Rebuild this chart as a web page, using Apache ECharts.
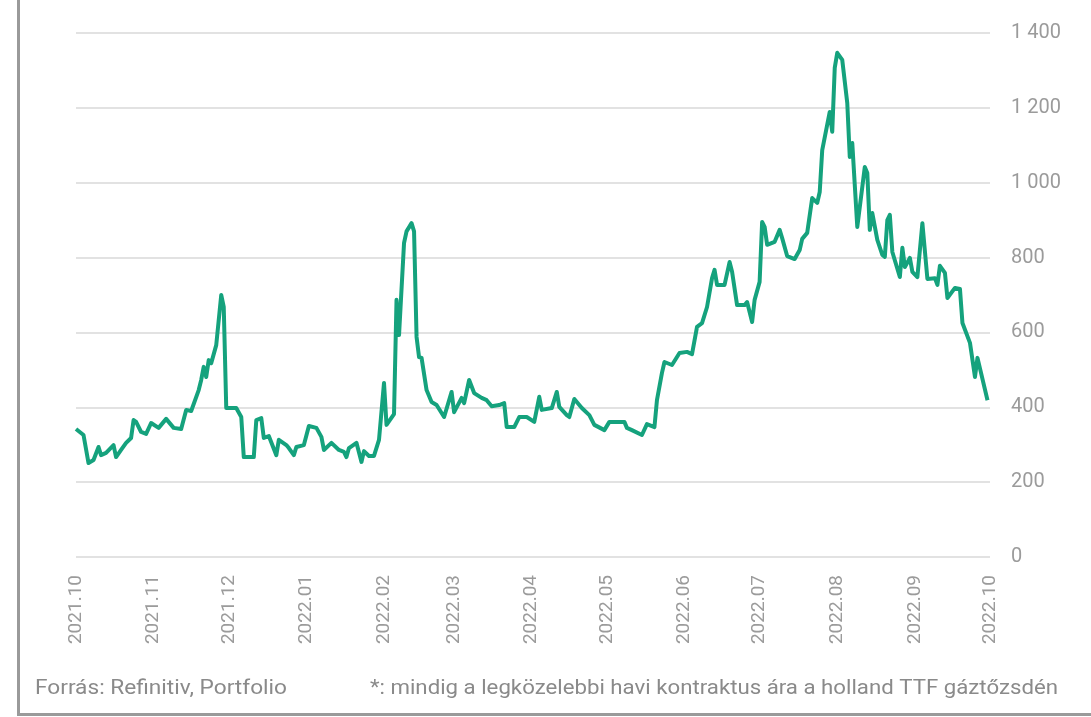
<!DOCTYPE html>
<html lang="hu">
<head>
    <meta charset="UTF-8">
    <title>TTF gázár</title>
    <script src="https://cdn.jsdelivr.net/npm/echarts@6/dist/echarts.min.js"></script>
    <style>
        html, body { margin: 0; padding: 0; background: #fff; }
        #frame {
            position: absolute; left: 17px; top: 0;
            width: 1074px; height: 713px;
            border-left: 3px solid #9a9a9a;
            border-bottom: 3px solid #9a9a9a;
        }
        #main { position: absolute; left: 0; top: 0; width: 1091px; height: 717px; }
    </style>
</head>
<body>
<div id="frame"></div>
<div id="main"></div>
<script>
    // napi adatok (leolvasva)
    var dates = [
        '2021-10-01','2021-10-04','2021-10-06','2021-10-08','2021-10-10','2021-10-11','2021-10-13','2021-10-16',
        '2021-10-17','2021-10-19','2021-10-21','2021-10-23','2021-10-24','2021-10-25','2021-10-27','2021-10-29',
        '2021-10-31','2021-11-03','2021-11-06','2021-11-09','2021-11-12','2021-11-14','2021-11-16','2021-11-19',
        '2021-11-20','2021-11-21','2021-11-22','2021-11-23','2021-11-24','2021-11-26','2021-11-28','2021-11-29',
        '2021-11-30','2021-12-04','2021-12-06','2021-12-07','2021-12-11','2021-12-12','2021-12-14','2021-12-15',
        '2021-12-17','2021-12-20','2021-12-21','2021-12-24','2021-12-25','2021-12-27','2021-12-28','2021-12-31',
        '2022-01-02','2022-01-05','2022-01-07','2022-01-08','2022-01-11','2022-01-14','2022-01-16','2022-01-17',
        '2022-01-18','2022-01-21','2022-01-23','2022-01-24','2022-01-26','2022-01-28','2022-01-30','2022-02-01',
        '2022-02-02','2022-02-05','2022-02-06','2022-02-07','2022-02-09','2022-02-10','2022-02-12','2022-02-13',
        '2022-02-14','2022-02-15','2022-02-16','2022-02-18','2022-02-20','2022-02-22','2022-02-25','2022-02-28',
        '2022-03-01','2022-03-04','2022-03-05','2022-03-07','2022-03-09','2022-03-12','2022-03-14','2022-03-16',
        '2022-03-19','2022-03-21','2022-03-22','2022-03-25','2022-03-27','2022-03-30','2022-04-02','2022-04-04',
        '2022-04-05','2022-04-09','2022-04-11','2022-04-12','2022-04-15','2022-04-16','2022-04-18','2022-04-21',
        '2022-04-24','2022-04-26','2022-04-30','2022-05-02','2022-05-06','2022-05-08','2022-05-09','2022-05-11',
        '2022-05-15','2022-05-17','2022-05-20','2022-05-21','2022-05-23','2022-05-24','2022-05-27','2022-05-30',
        '2022-06-02','2022-06-04','2022-06-06','2022-06-08','2022-06-10','2022-06-12','2022-06-13','2022-06-14',
        '2022-06-17','2022-06-19','2022-06-20','2022-06-22','2022-06-25','2022-06-26','2022-06-28','2022-06-29',
        '2022-07-01','2022-07-02','2022-07-03','2022-07-04','2022-07-07','2022-07-09','2022-07-10','2022-07-12',
        '2022-07-15','2022-07-17','2022-07-18','2022-07-20','2022-07-22','2022-07-24','2022-07-25','2022-07-26',
        '2022-07-29','2022-07-30','2022-07-31','2022-08-01','2022-08-03','2022-08-05','2022-08-06','2022-08-07',
        '2022-08-09','2022-08-12','2022-08-13','2022-08-14','2022-08-15','2022-08-17','2022-08-19','2022-08-20',
        '2022-08-21','2022-08-22','2022-08-23','2022-08-26','2022-08-27','2022-08-28','2022-08-30','2022-08-31',
        '2022-09-02','2022-09-04','2022-09-06','2022-09-09','2022-09-10','2022-09-11','2022-09-13','2022-09-14',
        '2022-09-17','2022-09-19','2022-09-20','2022-09-23','2022-09-25','2022-09-26','2022-09-30'
    ];
    var values = [
        342, 326, 251, 259, 294, 272, 278, 299,
        267, 286, 305, 318, 366, 361, 334, 329,
        358, 345, 369, 345, 342, 393, 390, 446,
        473, 508, 481, 526, 518, 566, 700, 668,
        398, 398, 374, 267, 267, 366, 371, 318,
        323, 272, 313, 299, 291, 272, 294, 299,
        350, 345, 321, 286, 305, 286, 281, 267,
        291, 305, 254, 283, 270, 270, 313, 465,
        353, 382, 687, 593, 839, 870, 892, 870,
        588, 534, 532, 446, 414, 406, 374, 441,
        387, 425, 411, 473, 438, 425, 419, 403,
        406, 411, 347, 347, 374, 374, 361, 428,
        393, 398, 441, 401, 379, 374, 422, 398,
        379, 353, 339, 361, 361, 361, 345, 339,
        326, 355, 347, 419, 492, 521, 513, 545,
        548, 542, 615, 625, 668, 745, 767, 727,
        727, 788, 762, 673, 673, 681, 628, 687,
        735, 895, 882, 834, 842, 874, 852, 804,
        796, 820, 850, 866, 959, 946, 975, 1087,
        1189, 1136, 1307, 1347, 1328, 1213, 1069, 1106,
        882, 1042, 1026, 874, 919, 847, 807, 802,
        900, 914, 815, 748, 826, 775, 799, 762,
        748, 892, 743, 745, 727, 778, 759, 692,
        719, 716, 625, 572, 481, 532, 419
    ];
    var firstDay = '2021-10-01', lastDay = '2022-10-01';
    var yTicks = [0, 200, 400, 600, 800, 1000, 1200, 1400];
    var footLeft = 'Forrás: Refinitiv, Portfolio';
    var footRight = '*: mindig a legközelebbi havi kontraktus ára a holland TTF gáztőzsdén';

    // naptári napok a kategóriatengelyhez
    var days = [];
    var t = Date.parse(firstDay + 'T00:00:00Z'), end = Date.parse(lastDay + 'T00:00:00Z');
    while (t <= end) {
        days.push(new Date(t).toISOString().slice(0, 10));
        t += 86400000;
    }

    // keskeny lábléc: Roboto vízszintesen összenyomva a kívánt szélességre
    var footFont = '21px Roboto';
    var ctx = document.createElement('canvas').getContext('2d');
    ctx.font = footFont;
    function squeeze(text, width) {
        return width / ctx.measureText(text).width;
    }

    var chart = echarts.init(document.getElementById('main'));
    var option = {
        animation: false,
        grid: {left: 76, right: 101, top: 33, bottom: 160, containLabel: false},
        xAxis: {
            type: 'category',
            data: days,
            boundaryGap: false,
            axisLine: {show: false},
            axisTick: {show: false},
            axisLabel: {
                rotate: 90,
                margin: 18,
                color: '#9b9b9b',
                fontSize: 19,
                fontFamily: 'Roboto',
                interval: function (i, v) { return v.slice(8) === '01'; },
                formatter: function (v) { return v.slice(0, 4) + '.' + v.slice(5, 7); }
            }
        },
        yAxis: {
            type: 'value',
            position: 'right',
            min: yTicks[0],
            max: yTicks[yTicks.length - 1],
            interval: 200,
            axisLine: {show: false},
            axisTick: {show: false},
            splitLine: {lineStyle: {color: '#d9d9d9', width: 1.5}},
            axisLabel: {
                margin: 21,
                color: '#9b9b9b',
                fontSize: 20,
                fontFamily: 'Roboto',
                formatter: function (v) {
                    return v >= 1000 ? Math.floor(v / 1000) + ' ' + String(v % 1000).padStart(3, '0') : String(v);
                }
            }
        },
        series: [{
            type: 'line',
            data: dates.map(function (d, i) { return [d, values[i]]; }),
            showSymbol: false,
            lineStyle: {color: '#15a27d', width: 4, join: 'round'},
            itemStyle: {color: '#15a27d'}
        }],
        graphic: [
            {type: 'text', x: 35, y: 678, scaleX: squeeze(footLeft, 252),
                style: {text: footLeft, fill: '#8a8a8a', font: footFont}},
            {type: 'text', x: 370, y: 678, scaleX: squeeze(footRight, 688),
                style: {text: footRight, fill: '#8a8a8a', font: footFont}}
        ]
    };
    chart.setOption(option);
</script>
</body>
</html>
